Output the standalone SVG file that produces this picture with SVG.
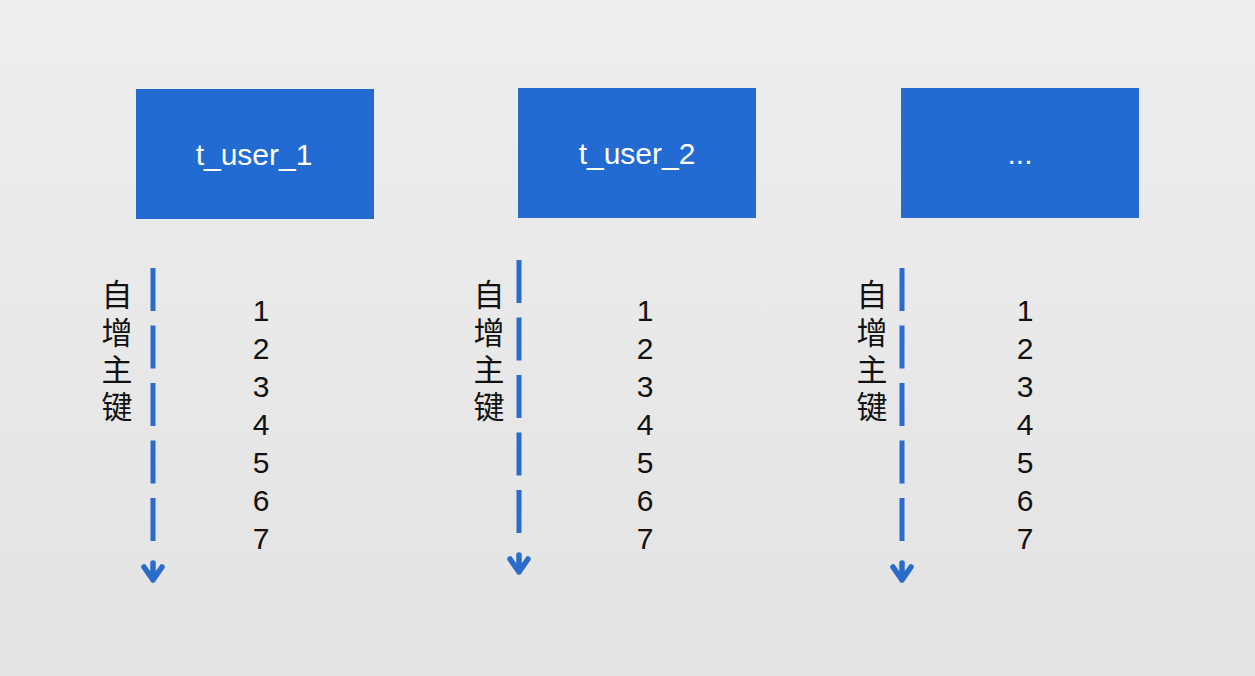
<svg xmlns="http://www.w3.org/2000/svg" width="1255" height="676" viewBox="0 0 1255 676">
<defs>
<linearGradient id="bg" x1="0" y1="0" x2="0" y2="1">
<stop offset="0" stop-color="#eeeeee"/>
<stop offset="1" stop-color="#e3e3e3"/>
</linearGradient>
</defs>
<style>
.box{fill:#226bd3}
.lbl{font-family:"Liberation Sans",Arial,sans-serif;font-size:30px;fill:#ffffff;text-anchor:middle}
.num{font-family:"Liberation Sans",Arial,sans-serif;font-size:30px;fill:#111111;text-anchor:middle}
.cjk{font-family:"Liberation Sans","Noto Sans CJK SC",sans-serif;font-size:31px;fill:#111111;text-anchor:middle}
.dash{stroke:#2a6bcc;stroke-width:5;fill:none;stroke-dasharray:43 14.5}
.head{stroke:#2a6bcc;stroke-width:5.5;fill:none;stroke-linecap:round;stroke-linejoin:round}
</style>
<rect width="1255" height="676" fill="url(#bg)"/>
<g id="t_user_1">
<rect class="box" x="136" y="89" width="238" height="130"/>
<text class="lbl" x="254" y="165">t_user_1</text>
</g>
<g id="t_user_2">
<rect class="box" x="518" y="88" width="238" height="130"/>
<text class="lbl" x="637" y="164">t_user_2</text>
</g>
<g id="t_user_more">
<rect class="box" x="901" y="88" width="238" height="130"/>
<text class="lbl" x="1020" y="164">...</text>
</g>
<g id="connectors">
<line class="dash" x1="153" y1="268" x2="153" y2="544"/>
<path class="head" d="M153,563 V580 M144,567 L153,580 L162,567"/>
<line class="dash" x1="519" y1="260" x2="519" y2="536"/>
<path class="head" d="M519,555 V572 M510,559 L519,572 L528,559"/>
<line class="dash" x1="902" y1="268" x2="902" y2="544"/>
<path class="head" d="M902,563 V580 M893,567 L902,580 L911,567"/>
</g>
<g id="col1">
<text class="cjk" x="117" y="306">自</text>
<text class="cjk" x="117" y="344">增</text>
<text class="cjk" x="117" y="381">主</text>
<text class="cjk" x="117" y="418">键</text>
<text class="num" x="261" y="321">1</text>
<text class="num" x="261" y="359">2</text>
<text class="num" x="261" y="397">3</text>
<text class="num" x="261" y="435">4</text>
<text class="num" x="261" y="473">5</text>
<text class="num" x="261" y="511">6</text>
<text class="num" x="261" y="549">7</text>
</g>
<g id="col2">
<text class="cjk" x="489" y="306">自</text>
<text class="cjk" x="489" y="344">增</text>
<text class="cjk" x="489" y="381">主</text>
<text class="cjk" x="489" y="418">键</text>
<text class="num" x="645" y="321">1</text>
<text class="num" x="645" y="359">2</text>
<text class="num" x="645" y="397">3</text>
<text class="num" x="645" y="435">4</text>
<text class="num" x="645" y="473">5</text>
<text class="num" x="645" y="511">6</text>
<text class="num" x="645" y="549">7</text>
</g>
<g id="col3">
<text class="cjk" x="872" y="306">自</text>
<text class="cjk" x="872" y="344">增</text>
<text class="cjk" x="872" y="381">主</text>
<text class="cjk" x="872" y="418">键</text>
<text class="num" x="1025" y="321">1</text>
<text class="num" x="1025" y="359">2</text>
<text class="num" x="1025" y="397">3</text>
<text class="num" x="1025" y="435">4</text>
<text class="num" x="1025" y="473">5</text>
<text class="num" x="1025" y="511">6</text>
<text class="num" x="1025" y="549">7</text>
</g>
</svg>
